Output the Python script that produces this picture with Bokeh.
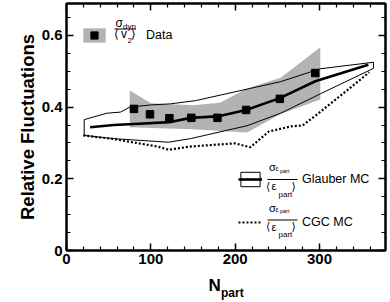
import math
from bokeh.plotting import figure
from bokeh.models import (Range1d, LinearAxis, FixedTicker, CustomJSTickFormatter,
                          CustomLabelingPolicy, Label, Legend, LegendItem, ColumnDataSource)
from bokeh.embed import file_html
from bokeh.resources import INLINE

# ---------------- data ----------------
npart_data = [80, 99, 122, 148, 179, 213, 253, 295]
rel_data = [0.395, 0.380, 0.369, 0.370, 0.370, 0.392, 0.423, 0.495]

sys_top_x = [75, 100, 150, 182, 214, 254, 301]
sys_top_y = [0.446, 0.411, 0.405, 0.412, 0.452, 0.482, 0.567]
sys_bot_x = [75, 120, 150, 214, 254, 301]
sys_bot_y = [0.344, 0.340, 0.338, 0.329, 0.381, 0.421]

glauber_x = [28, 56, 80, 122, 147, 179, 213, 253, 295, 358]
glauber_mean = [0.344, 0.350, 0.353, 0.358, 0.370, 0.374, 0.392, 0.425, 0.472, 0.518]

glauber_up_x = [21, 48, 64, 75, 100, 123, 153, 254, 301, 364]
glauber_up = [0.365, 0.383, 0.386, 0.400, 0.406, 0.409, 0.418, 0.471, 0.507, 0.525]
glauber_lo_x = [21, 56, 121, 147, 214, 254, 301, 364]
glauber_lo = [0.321, 0.312, 0.302, 0.312, 0.348, 0.383, 0.437, 0.508]

cgc_x = [20, 56, 88, 108, 121, 147, 200, 218, 240, 266, 280, 298, 325, 359]
cgc_y = [0.321, 0.311, 0.298, 0.290, 0.281, 0.290, 0.299, 0.288, 0.332, 0.346,
         0.349, 0.381, 0.432, 0.497]

x_ticks = [0, 100, 200, 300]
y_ticks = [0, 0.2, 0.4, 0.6]

# ---------------- layout (page has no margin with Bokeh's template) ----------------
W, H = 390, 302
BL, BR, BT, BB = 66, 5, 3, 52
FW = W - BL - BR          # frame width in px
FH = H - BT - BB          # frame height in px
X1 = FW / 0.8433
Y1 = FH / 358.5
FL_PAGE = BL              # frame left on page
FB_PAGE = H - BB          # frame bottom on page


def dx(px):
    return (px - FL_PAGE) * X1 / FW


def dy(py):
    return (FB_PAGE - py) * Y1 / FH


p = figure(width=W, height=H, x_range=Range1d(0, X1), y_range=Range1d(0, Y1),
           output_backend="svg", toolbar_location=None,
           min_border_left=BL, min_border_right=BR, min_border_top=BT, min_border_bottom=BB)
p.grid.visible = False
p.outline_line_color = "black"
p.outline_line_width = 2
p.background_fill_color = "white"
p.border_fill_color = "white"

xt = FixedTicker(ticks=x_ticks, minor_ticks=[v for v in range(20, 380, 20) if v % 100])
yt = FixedTicker(ticks=y_ticks, minor_ticks=[round(0.05 * k, 2) for k in range(1, 14) if k % 4])
yfmt = CustomJSTickFormatter(code="return tick == 0 ? '0' : tick.toFixed(1)")


def style_axis(ax, show_labels, standoff=4):
    ax.axis_line_width = 2
    ax.axis_line_color = "black"
    ax.major_tick_in = 7
    ax.major_tick_out = 0
    ax.minor_tick_in = 4
    ax.minor_tick_out = 0
    ax.major_tick_line_width = 1.5
    ax.minor_tick_line_width = 1.2
    ax.major_tick_line_color = "black"
    ax.minor_tick_line_color = "black"
    if show_labels:
        ax.major_label_text_font = "Liberation Sans"
        ax.major_label_text_font_style = "bold"
        ax.major_label_text_font_size = "15px"
        ax.major_label_text_color = "black"
        ax.major_label_standoff = standoff
    else:
        ax.major_label_text_font_size = "0px"
        ax.major_label_standoff = 0
        ax.major_label_policy = CustomLabelingPolicy(code="return new Set()")


xa = p.xaxis[0]
xa.ticker = xt
style_axis(xa, True, 3)
ya = p.yaxis[0]
ya.ticker = yt
ya.formatter = yfmt
style_axis(ya, True, 4)
ya.axis_label = "Relative Fluctuations"
ya.axis_label_text_font = "Liberation Sans"
ya.axis_label_text_font_style = "bold"
ya.axis_label_text_font_size = "18.5px"
ya.axis_label_text_color = "black"
ya.axis_label_standoff = 1

top_ax = LinearAxis(ticker=xt)
style_axis(top_ax, False)
p.add_layout(top_ax, "above")
right_ax = LinearAxis(ticker=yt)
style_axis(right_ax, False)
p.add_layout(right_ax, "right")

# ---------------- glyphs ----------------
band_src = ColumnDataSource(dict(x=sys_top_x + sys_bot_x[::-1], y=sys_top_y + sys_bot_y[::-1]))
band = p.patch("x", "y", source=band_src, fill_color="#b3b3b3", line_color=None)

env_src = ColumnDataSource(dict(x=glauber_up_x + glauber_lo_x[::-1], y=glauber_up + glauber_lo[::-1]))
env = p.patch("x", "y", source=env_src, fill_color=None, line_color="black", line_width=1)

mean = p.line(glauber_x, glauber_mean, line_color="black", line_width=2.6)
cgc = p.line(cgc_x, cgc_y, line_color="black", line_width=2.2, line_dash="2 2")
pts = p.scatter(npart_data, rel_data, marker="square", size=7.5, fill_color="black", line_color="black")


def mk_legend(items, x, y, gw, gh, standoff, spacing=0):
    lg = Legend(items=items, location=(int(round(x)), int(round(y))), padding=0, margin=0,
                spacing=spacing, border_line_alpha=0, background_fill_alpha=0,
                label_standoff=int(round(standoff)),
                label_width=0, label_height=0, label_text_font="Liberation Sans",
                label_text_font_size="12.5px", label_text_color="black",
                glyph_width=gw, glyph_height=gh)
    p.add_layout(lg)


mk_legend([LegendItem(label="Data", renderers=[band, pts])],
          80.5 - FL_PAGE, FB_PAGE - 44.5, 28, 18, 146 - 108.5)
mk_legend([LegendItem(label="Glauber MC", renderers=[env, mean]),
           LegendItem(label="CGC MC", renderers=[cgc])],
          237.5 - FL_PAGE, FB_PAGE - 231, 24, 18, 301.5 - 261.5, spacing=25)


# ---------------- texts ----------------
def lab(text, px, py, size, bold=False, align="left", baseline="middle",
        font="Liberation Sans", place=None):
    lb = Label(x=dx(px), y=dy(py), text=text, text_font=font, text_font_size=f"{size}px",
               text_font_style="bold" if bold else "normal",
               text_align=align, text_baseline=baseline, text_color="black")
    if place:
        p.add_layout(lb, place)
    else:
        p.add_layout(lb)


frac_src = ColumnDataSource(dict(x0=[dx(114), dx(267), dx(267)], x1=[dx(135.5), dx(297), dx(297)],
                                 y0=[dy(28.5), dy(179), dy(219.5)], y1=[dy(28.5), dy(179), dy(219.5)]))
p.segment("x0", "y0", "x1", "y1", source=frac_src, line_color="black", line_width=1)

# Data entry
lab("σ", 115, 22, 12)
lab("dyn", 122.5, 25.5, 8)
lab("⟨", 113.5, 33.5, 12, font="DejaVu Sans")
lab("v", 120.5, 33.5, 12)
lab("2", 127, 39.5, 8)
lab("⟩", 130.5, 33.5, 12, font="DejaVu Sans")

# Glauber / CGC entries
for (ys, yb, yp) in [(166.5, 185.5, 193.5), (207, 226, 234)]:
    lab("σ", 268.5, ys, 11)
    lab("ε", 275, ys + 1.5, 7)
    lab("part", 279.5, ys + 3.5, 5.5)
    lab("⟨", 265.5, yb, 11, font="DejaVu Sans")
    lab("ε", 271, yb, 11)
    lab("part", 278, yp, 8)
    lab("⟩", 291, yb, 11, font="DejaVu Sans")

# x axis title: side-panel labels (not clipped to the frame); split over two
# panels so the bottom border keeps its size
lab("N", 208, 285, 17, bold=True, baseline="alphabetic", place="left")
lab("part", 220.5, 292, 12, bold=True, baseline="alphabetic", place="below")

open("out.html", "w").write(file_html(p, INLINE))
